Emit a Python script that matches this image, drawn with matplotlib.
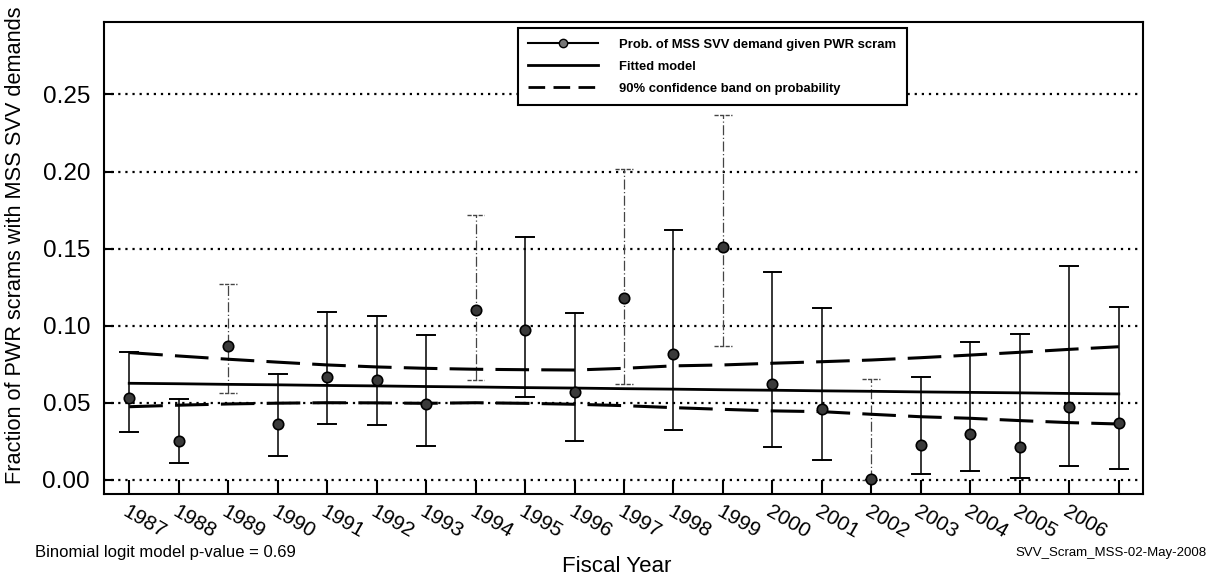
import matplotlib
matplotlib.use("Agg")
import matplotlib.pyplot as plt
from matplotlib.lines import Line2D
from matplotlib.transforms import ScaledTranslation

plt.rcParams['font.family'] = ['Liberation Sans', 'DejaVu Sans']

years = list(range(1987, 2008))
tick_labels = [str(y) for y in range(1987, 2007)] + [""]

prob = [0.053, 0.0255, 0.087, 0.0364, 0.0665, 0.065, 0.0494,
        0.110, 0.097, 0.057, 0.118, 0.0814, 0.151, 0.0623,
        0.0458, 0.0006, 0.0227, 0.030, 0.0216, 0.0476, 0.037]
upper = [0.0827, 0.0524, 0.127, 0.0686, 0.109, 0.1065, 0.0942,
         0.172, 0.1576, 0.1082, 0.2017, 0.162, 0.2368, 0.135,
         0.1113, 0.0657, 0.0668, 0.0895, 0.0949, 0.139, 0.112]
lower = [0.0314, 0.0108, 0.0567, 0.0158, 0.0364, 0.0355, 0.0221,
         0.0649, 0.0535, 0.0253, 0.0623, 0.0325, 0.087, 0.0216,
         0.0128, 0.0, 0.0041, 0.0058, 0.0011, 0.0091, 0.0071]

fitted = [0.0627, 0.0624, 0.0620, 0.0617, 0.0613, 0.0610, 0.0606,
          0.0603, 0.0599, 0.0596, 0.0592, 0.0589, 0.0585, 0.0582,
          0.0578, 0.0575, 0.0571, 0.0568, 0.0565, 0.0561, 0.0558]
band_hi = [0.0826, 0.0804, 0.0783, 0.0764, 0.0746, 0.0733, 0.0724,
           0.0718, 0.0715, 0.0713, 0.0724, 0.0740, 0.0746, 0.0757,
           0.0767, 0.0778, 0.0793, 0.0810, 0.0828, 0.0847, 0.0864]
band_lo = [0.0475, 0.0485, 0.0493, 0.0498, 0.0501, 0.0500, 0.0497,
           0.0501, 0.0497, 0.0491, 0.0482, 0.0469, 0.0458, 0.0448,
           0.0443, 0.0426, 0.0410, 0.0400, 0.0385, 0.0372, 0.0363]

fig = plt.figure(figsize=(12.11, 5.79), dpi=100)
ax = fig.add_axes([104/1211, 1 - 494/579, (1143-104)/1211, (494-22)/579])

# error bars
light = {1989, 1994, 1997, 1999, 2002}
cw = 0.18
for x, lo, hi in zip(years, lower, upper):
    if x in light:
        ax.plot([x, x], [lo, hi], color='#444444', lw=0.9, ls=(0, (8, 2, 1, 2)))
        ax.plot([x - cw, x + cw], [hi, hi], color='#444444', lw=1.0, ls=(0, (3, 1)))
        ax.plot([x - cw, x + cw], [lo, lo], color='#444444', lw=1.0, ls=(0, (3, 1)))
    else:
        ax.plot([x, x], [lo, hi], color='black', lw=1.1)
        ax.plot([x - cw, x + cw], [hi, hi], color='black', lw=1.4)
        ax.plot([x - cw, x + cw], [lo, lo], color='black', lw=1.4)

ax.plot(years, prob, 'o', ms=7.5, mfc='#3a3a3a', mec='black', mew=1.2, ls='none', zorder=5)
ax.plot(years, fitted, color='black', lw=2.0)
ax.plot(years, band_hi, color='black', lw=2.2, ls=(0, (11, 4)))
ax.plot(years, band_lo, color='black', lw=2.2, ls=(0, (11, 4)))

ax.set_xlim(1986.49, 2007.49)
ax.set_ylim(-0.0091, 0.297)
yt = [0.0, 0.05, 0.10, 0.15, 0.20, 0.25]
ax.set_yticks(yt)
ax.set_yticklabels([f"{v:.2f}" for v in yt], fontsize=17.5)
for v in yt:
    ax.axhline(v, color='black', lw=1.6, ls=(0, (1, 2.2)), zorder=0)
ax.set_xticks(years)
ax.set_xticklabels(tick_labels, rotation=-30, ha='left', va='top',
                   rotation_mode='anchor', fontsize=15)
shift = ScaledTranslation(10/100, 0, fig.dpi_scale_trans)
for lab in ax.get_xticklabels():
    lab.set_transform(lab.get_transform() + shift)
ax.tick_params(axis='x', direction='in', length=10, width=1.5, pad=6)
ax.tick_params(axis='y', direction='in', length=7, width=1.5, pad=10)
for s in ax.spines.values():
    s.set_linewidth(1.5)

fig.text(16/1211, 1 - 245/579, "Fraction of PWR scrams with MSS SVV demands",
         fontsize=15.7, rotation=90, ha='center', va='center')

handles = [
    Line2D([], [], color='black', lw=1.5, marker='o', ms=6, mfc='#777777', mec='black'),
    Line2D([], [], color='black', lw=2.0),
    Line2D([], [], color='black', lw=2.0, ls=(0, (6, 3))),
]
labels = ["Prob. of MSS SVV demand given PWR scram", "Fitted model",
          "90% confidence band on probability"]
leg = ax.legend(handles, labels, loc='upper left', bbox_to_anchor=(0.398, 0.987),
                prop={'weight': 'bold', 'size': 9.4},
                frameon=True, fancybox=False, edgecolor='black',
                framealpha=1, handlelength=5.4, borderpad=0.8, labelspacing=0.75,
                handletextpad=1.6, borderaxespad=0)
leg.get_frame().set_linewidth(1.5)

fig.text(617/1211, 1 - 566/579, "Fiscal Year", fontsize=16, ha='center', va='center')
fig.text(35/1211, 1 - 553/579, "Binomial logit model p-value = 0.69", fontsize=12,
         ha='left', va='center')
fig.text(1207/1211, 1 - 553/579, "SVV_Scram_MSS-02-May-2008", fontsize=9.5,
         ha='right', va='center')

fig.savefig("out.png", dpi=100)
